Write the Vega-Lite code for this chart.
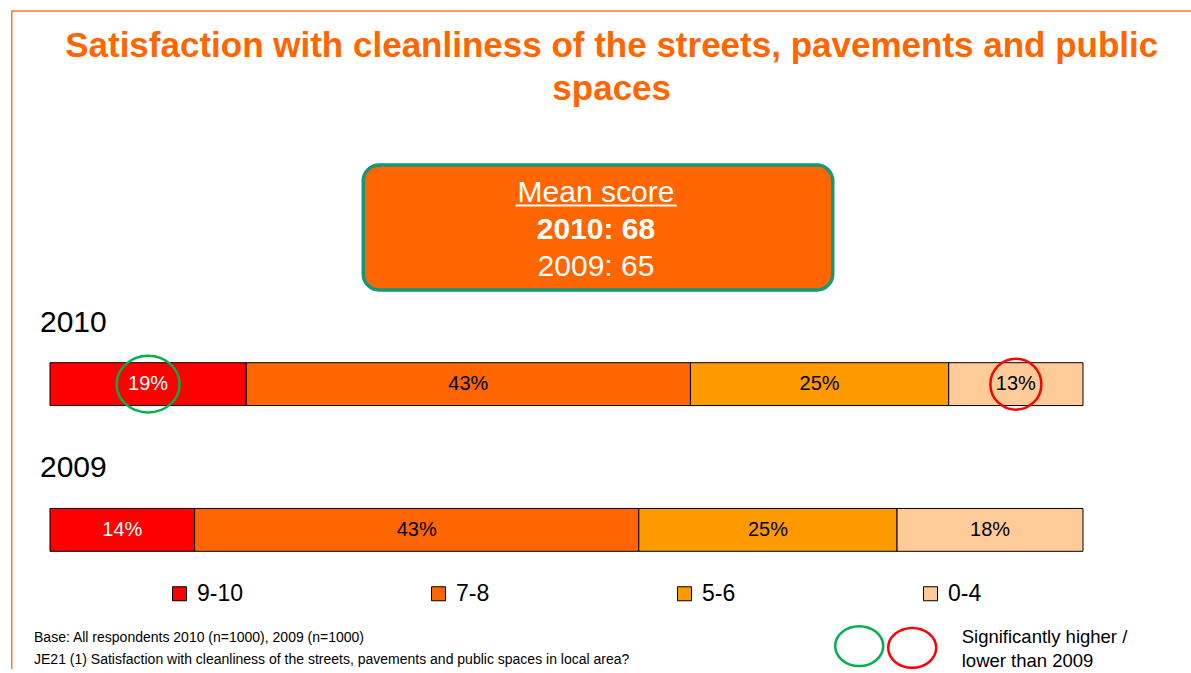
{
  "$schema": "https://vega.github.io/schema/vega-lite/v6.json",
  "width": 1191,
  "height": 673,
  "autosize": {"type": "fit", "contains": "padding"},
  "padding": 0,
  "background": "white",
  "config": {"font": "Liberation Sans", "view": {"stroke": null}, "axis": {"disable": true}},
  "resolve": {"scale": {"x": "independent", "y": "independent"}},
  "layer": [
    {
      "data": {"values": [{}]},
      "layer": [
        {
          "mark": {"type": "rect", "filled": false, "stroke": "#F07F28", "strokeWidth": 1.5, "clip": true},
          "encoding": {
            "x": {"datum": 0.99, "type": "quantitative", "scale": {"domain": [0, 100], "nice": false, "zero": false}},
            "x2": {"datum": 101},
            "y": {"datum": 1.63, "type": "quantitative", "scale": {"domain": [0, 100], "nice": false, "zero": false, "reverse": true}},
            "y2": {"datum": 101}
          }
        },
        {
          "mark": {"type": "text", "text": ["Satisfaction with cleanliness of the streets, pavements and public", "spaces"], "fontSize": 35, "fontWeight": "bold", "color": "#FF6600", "align": "center", "baseline": "alphabetic", "lineHeight": 43},
          "encoding": {
            "x": {"datum": 51.36, "type": "quantitative", "scale": {"domain": [0, 100], "nice": false, "zero": false}},
            "y": {"datum": 8.51, "type": "quantitative", "scale": {"domain": [0, 100], "nice": false, "zero": false, "reverse": true}}
          }
        },
        {
          "mark": {"type": "rect", "fill": "#FF6600", "stroke": "#12997A", "strokeWidth": 3.5, "cornerRadius": 16},
          "encoding": {
            "x": {"datum": 30.5, "type": "quantitative", "scale": {"domain": [0, 100], "nice": false, "zero": false}},
            "x2": {"datum": 69.92},
            "y": {"datum": 24.67, "type": "quantitative", "scale": {"domain": [0, 100], "nice": false, "zero": false, "reverse": true}},
            "y2": {"datum": 43.34}
          }
        },
        {
          "mark": {"type": "text", "text": "Mean score", "fontSize": 30, "color": "white", "align": "center", "baseline": "alphabetic"},
          "encoding": {
            "x": {"datum": 50.04, "type": "quantitative", "scale": {"domain": [0, 100], "nice": false, "zero": false}},
            "y": {"datum": 30.12, "type": "quantitative", "scale": {"domain": [0, 100], "nice": false, "zero": false, "reverse": true}}
          }
        },
        {
          "mark": {"type": "rule", "color": "white", "strokeWidth": 2},
          "encoding": {
            "x": {"datum": 43.3, "type": "quantitative", "scale": {"domain": [0, 100], "nice": false, "zero": false}},
            "x2": {"datum": 56.82},
            "y": {"datum": 30.71, "type": "quantitative", "scale": {"domain": [0, 100], "nice": false, "zero": false, "reverse": true}}
          }
        },
        {
          "mark": {"type": "text", "text": "2010: 68", "fontSize": 30, "fontWeight": "bold", "color": "white", "align": "center", "baseline": "alphabetic"},
          "encoding": {
            "x": {"datum": 50.04, "type": "quantitative", "scale": {"domain": [0, 100], "nice": false, "zero": false}},
            "y": {"datum": 35.77, "type": "quantitative", "scale": {"domain": [0, 100], "nice": false, "zero": false, "reverse": true}}
          }
        },
        {
          "mark": {"type": "text", "text": "2009: 65", "fontSize": 30, "color": "white", "align": "center", "baseline": "alphabetic"},
          "encoding": {
            "x": {"datum": 50.04, "type": "quantitative", "scale": {"domain": [0, 100], "nice": false, "zero": false}},
            "y": {"datum": 41.26, "type": "quantitative", "scale": {"domain": [0, 100], "nice": false, "zero": false, "reverse": true}}
          }
        },
        {
          "mark": {"type": "text", "text": "Base: All respondents 2010 (n=1000), 2009 (n=1000)", "fontSize": 14, "color": "black", "align": "left", "baseline": "alphabetic"},
          "encoding": {
            "x": {"datum": 2.855, "type": "quantitative", "scale": {"domain": [0, 100], "nice": false, "zero": false}},
            "y": {"datum": 95.99, "type": "quantitative", "scale": {"domain": [0, 100], "nice": false, "zero": false, "reverse": true}}
          }
        },
        {
          "mark": {"type": "text", "text": "JE21 (1) Satisfaction with cleanliness of the streets, pavements and public spaces in local area?", "fontSize": 14, "color": "black", "align": "left", "baseline": "alphabetic"},
          "encoding": {
            "x": {"datum": 2.855, "type": "quantitative", "scale": {"domain": [0, 100], "nice": false, "zero": false}},
            "y": {"datum": 99.3, "type": "quantitative", "scale": {"domain": [0, 100], "nice": false, "zero": false, "reverse": true}}
          }
        },
        {
          "mark": {"type": "point", "filled": false, "stroke": "#00B050", "strokeWidth": 2.5, "shape": "M-1,0A1,0.83,0,1,1,1,0A1,0.83,0,1,1,-1,0Z", "size": 2304, "opacity": 1},
          "encoding": {
            "x": {"datum": 72.14, "type": "quantitative", "scale": {"domain": [0, 100], "nice": false, "zero": false}},
            "y": {"datum": 96.58, "type": "quantitative", "scale": {"domain": [0, 100], "nice": false, "zero": false, "reverse": true}}
          }
        },
        {
          "mark": {"type": "point", "filled": false, "stroke": "#FF0000", "strokeWidth": 2.5, "shape": "M-1,0A1,0.83,0,1,1,1,0A1,0.83,0,1,1,-1,0Z", "size": 2304, "opacity": 1},
          "encoding": {
            "x": {"datum": 76.59, "type": "quantitative", "scale": {"domain": [0, 100], "nice": false, "zero": false}},
            "y": {"datum": 96.84, "type": "quantitative", "scale": {"domain": [0, 100], "nice": false, "zero": false, "reverse": true}}
          }
        },
        {
          "mark": {"type": "text", "text": ["Significantly higher /", "lower than 2009"], "fontSize": 18.5, "color": "black", "align": "left", "baseline": "alphabetic", "lineHeight": 24},
          "encoding": {
            "x": {"datum": 80.75, "type": "quantitative", "scale": {"domain": [0, 100], "nice": false, "zero": false}},
            "y": {"datum": 96.1, "type": "quantitative", "scale": {"domain": [0, 100], "nice": false, "zero": false, "reverse": true}}
          }
        }
      ]
    },
    {
      "data": {
        "values": [
          {"year": "2010", "category": "9-10", "order": 1, "value": 0.19, "sig": "higher"},
          {"year": "2010", "category": "7-8", "order": 2, "value": 0.43, "sig": "none"},
          {"year": "2010", "category": "5-6", "order": 3, "value": 0.25, "sig": "none"},
          {"year": "2010", "category": "0-4", "order": 4, "value": 0.13, "sig": "lower"},
          {"year": "2009", "category": "9-10", "order": 1, "value": 0.14, "sig": "none"},
          {"year": "2009", "category": "7-8", "order": 2, "value": 0.43, "sig": "none"},
          {"year": "2009", "category": "5-6", "order": 3, "value": 0.25, "sig": "none"},
          {"year": "2009", "category": "0-4", "order": 4, "value": 0.18, "sig": "none"}
        ]
      },
      "transform": [
        {"stack": "value", "groupby": ["year"], "sort": [{"field": "order", "order": "ascending"}], "as": ["x0", "x1"]}
      ],
      "layer": [
        {
          "mark": {"type": "bar", "stroke": "black", "strokeWidth": 1},
          "encoding": {
            "x": {"field": "x0", "type": "quantitative", "scale": {"domain": [-0.0484, 1.10455], "nice": false, "zero": false}},
            "x2": {"field": "x1"},
            "y": {"field": "year", "type": "nominal", "sort": ["2010", "2009"], "scale": {"domain": ["2010", "2009"], "range": [362.7, 551.3], "paddingInner": 0.706, "paddingOuter": 0}},
            "color": {
              "field": "category",
              "type": "nominal",
              "scale": {"domain": ["9-10", "7-8", "5-6", "0-4"], "range": ["#FF0000", "#FF6600", "#FF9900", "#FFCC99"]},
              "legend": {
                "orient": "none", "legendX": 168, "legendY": 582, "direction": "horizontal", "columns": 4,
                "title": null, "symbolType": "square", "symbolSize": 196, "symbolStrokeColor": "black", "symbolStrokeWidth": 1,
                "symbolOpacity": 1, "labelFontSize": 23, "labelFont": "Liberation Sans", "labelColor": "black", "labelOffset": 6,
                "columnPadding": 183, "gridAlign": "each", "padding": 0
              }
            }
          }
        },
        {
          "transform": [
            {"fold": ["x0", "x1"], "as": ["edge", "pos"]},
            {"aggregate": [{"op": "mean", "field": "pos", "as": "mid"}], "groupby": ["year", "category", "value", "sig"]}
          ],
          "layer": [
            {
              "mark": {"type": "text", "fontSize": 20, "align": "center", "baseline": "middle"},
              "encoding": {
                "x": {"field": "mid", "type": "quantitative", "scale": {"domain": [-0.0484, 1.10455], "nice": false, "zero": false}},
                "y": {"field": "year", "type": "nominal", "sort": ["2010", "2009"], "scale": {"domain": ["2010", "2009"], "range": [362.7, 551.3], "paddingInner": 0.706, "paddingOuter": 0}},
                "text": {"field": "value", "type": "quantitative", "format": ".0%"},
                "color": {"condition": {"test": "datum.category === '9-10'", "value": "white"}, "value": "black"}
              }
            },
            {
              "transform": [{"filter": {"field": "sig", "oneOf": ["higher", "lower"]}}],
              "mark": {"type": "point", "filled": false, "strokeWidth": 2.5, "opacity": 1},
              "encoding": {
                "x": {"field": "mid", "type": "quantitative", "scale": {"domain": [-0.0484, 1.10455], "nice": false, "zero": false}},
                "y": {"field": "year", "type": "nominal", "sort": ["2010", "2009"], "scale": {"domain": ["2010", "2009"], "range": [362.7, 551.3], "paddingInner": 0.706, "paddingOuter": 0}},
                "stroke": {"condition": {"test": "datum.sig === 'higher'", "value": "#00B050"}, "value": "#FF0000"},
                "shape": {"condition": {"test": "datum.sig === 'higher'", "value": "M-1,0A1,0.9,0,1,1,1,0A1,0.9,0,1,1,-1,0Z"}, "value": "circle"},
                "size": {"condition": {"test": "datum.sig === 'higher'", "value": 3969}, "value": 2601}
              }
            }
          ]
        },
        {
          "transform": [{"filter": {"field": "order", "equal": 1}}],
          "mark": {"type": "text", "fontSize": 30, "align": "left", "baseline": "alphabetic", "dx": -10, "dy": -31, "color": "black"},
          "encoding": {
            "x": {"datum": 0, "type": "quantitative", "scale": {"domain": [-0.0484, 1.10455], "nice": false, "zero": false}},
            "y": {"field": "year", "type": "nominal", "bandPosition": 0, "sort": ["2010", "2009"], "scale": {"domain": ["2010", "2009"], "range": [362.7, 551.3], "paddingInner": 0.706, "paddingOuter": 0}},
            "text": {"field": "year", "type": "nominal"}
          }
        }
      ]
    }
  ]
}
